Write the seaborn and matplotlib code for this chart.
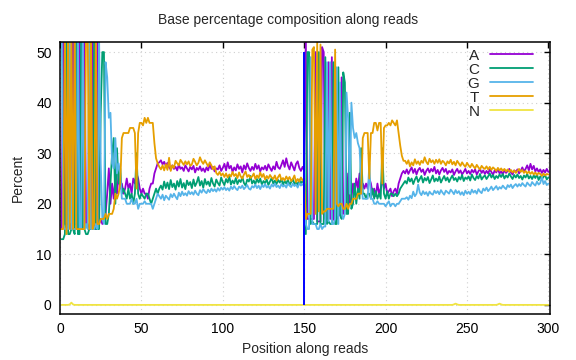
import matplotlib
matplotlib.use("Agg")
import numpy as np
import pandas as pd
import matplotlib.pyplot as plt
import seaborn as sns
from matplotlib.lines import Line2D

# Base composition (%) per cycle, read 1 = 1..150, read 2 = 151..300
positions = list(range(1, 301))

pct_A = [
    15, 56, 16, 16, 16, 16, 15, 55, 16, 16,
    16, 56, 16, 15, 55, 16, 16, 15, 15, 55,
    15, 15, 54, 16, 17, 16, 17, 18, 22, 27,
    20, 24, 21, 25, 22, 26, 23, 24, 22, 23,
    25, 23, 24, 22, 25, 24, 26, 25, 23, 22,
    23, 22, 22, 21, 23, 24, 24, 26, 27, 28,
    28.2, 28.6, 27.8, 28.3, 27.5, 28.1, 27.2, 26.8, 27.6, 26.9,
    27.3, 26.6, 27.8, 26.9, 27.2, 26.5, 27.6, 27.0, 26.4, 27.3,
    26.8, 27.5, 26.2, 27.1, 26.7, 27.4, 26.5, 27.0, 26.3, 27.2,
    26.6, 27.8, 26.9, 27.3, 26.4, 27.0, 26.8, 27.6, 26.5, 27.1,
    27.9, 26.6, 28.2, 27.0, 27.5, 26.3, 27.2, 26.6, 27.8, 26.9,
    27.4, 26.2, 27.6, 26.8, 28.0, 27.1, 26.5, 27.3, 26.7, 27.9,
    26.9, 27.6, 26.4, 27.2, 26.8, 27.5, 26.6, 27.8, 27.1, 26.5,
    27.4, 26.8, 28.3, 27.2, 26.9, 27.7, 28.6, 27.3, 29.0, 27.6,
    26.8, 28.2, 27.4, 26.6, 27.9, 28.4, 27.1, 26.5, 27.3, 26.6,
    53, 17, 17, 17, 17, 17, 50, 16.5, 16.5, 16.5,
    51, 50, 17, 17, 48, 17, 49, 17, 16.5, 17,
    17.5, 18, 45, 18, 19, 20, 26, 20, 21, 24,
    22, 25, 23, 26, 22, 24, 23, 24, 23, 25,
    24, 22, 23, 21.5, 24, 22, 23, 25, 23, 24,
    22, 22.5, 23, 21.5, 22.5, 23, 22, 24, 25, 26,
    26.5, 26, 26.8, 25.9, 26.6, 27.2, 26.1, 26.9, 25.8, 26.7,
    27.1, 26.3, 26.8, 25.7, 26.5, 27.0, 26.2, 26.9, 26.4, 27.3,
    26.0, 26.7, 25.8, 26.6, 27.1, 26.3, 26.9, 25.9, 26.5, 26.2,
    26.8, 25.7, 26.4, 26.9, 26.1, 26.6, 25.8, 26.3, 26.9, 26.0,
    26.5, 25.9, 26.7, 26.2, 26.8, 25.8, 26.4, 26.9, 26.1, 26.6,
    25.9, 26.5, 26.0, 26.8, 26.3, 25.7, 26.6, 26.2, 26.9, 26.0,
    26.4, 25.8, 26.7, 26.1, 26.5, 26.9, 26.2, 25.8, 26.6, 26.3,
    26.8, 26.0, 26.5, 27.2, 26.4, 26.9, 27.6, 26.6, 27.9, 26.8,
    27.5, 26.4, 27.0, 26.3, 26.8, 26.1, 26.7, 26.2, 26.9, 26.3,
]

pct_C = [
    13, 13, 14, 55, 14, 14, 15, 15, 14, 54,
    14, 14, 54, 15, 15, 14, 14, 15, 15, 15,
    54, 15, 15, 15, 38, 50, 50, 16, 16, 18,
    24, 30, 33, 20, 31, 24, 27, 22, 23, 22,
    21, 23, 21, 22, 20, 22, 30, 22, 21, 22,
    21.5, 21, 22, 22, 21, 20, 21, 22, 23, 22,
    23.0, 23.6, 22.8, 24.4, 23.1, 24.2, 22.9, 24.7, 23.3, 24.0,
    22.8, 24.5, 23.4, 24.9, 23.2, 24.1, 22.9, 24.6, 23.7, 24.3,
    23.1, 24.8, 23.5, 24.2, 25.3, 23.6, 24.5, 23.2, 24.9, 23.8,
    24.4, 23.5, 25.1, 24.0, 23.4, 24.8, 24.1, 23.6, 25.2, 24.3,
    23.7, 24.9, 24.2, 25.4, 23.8, 24.6, 24.0, 25.1, 23.9, 24.7,
    24.3, 25.3, 24.1, 23.6, 24.8, 24.4, 25.5, 24.0, 24.6, 23.9,
    24.9, 24.2, 25.0, 23.8, 24.5, 24.1, 24.8, 23.7, 24.4, 25.1,
    24.0, 24.6, 23.9, 24.7, 24.2, 24.9, 23.8, 24.5, 24.0, 24.8,
    23.7, 24.3, 24.9, 23.9, 24.4, 23.6, 24.8, 24.1, 24.5, 24.0,
    14, 50, 50, 16, 16.5, 16, 16, 16, 50, 16,
    16, 16, 49, 16, 16.5, 16, 16, 48, 16, 16,
    47, 18, 17, 46, 44, 18, 18, 38, 19, 20,
    24, 20, 23, 21, 31, 22, 22, 21, 22, 22,
    21, 23, 21, 22.5, 21, 22, 21, 31, 22, 21,
    22.5, 21, 22, 22, 21.5, 22, 21.5, 22, 23, 23.5,
    24.0, 24.5, 24.0, 25.2, 24.4, 25.0, 23.9, 24.8, 25.4, 24.3,
    24.9, 25.5, 24.2, 25.1, 24.6, 25.3, 24.1, 24.8, 25.6, 24.4,
    25.0, 24.5, 25.4, 24.2, 24.9, 25.5, 24.6, 25.2, 24.3, 25.0,
    25.6, 24.7, 25.1, 24.4, 25.3, 24.8, 25.7, 24.5, 25.2, 24.9,
    25.4, 24.6, 25.8, 25.1, 24.7, 25.5, 25.0, 25.9, 24.8, 25.3,
    25.6, 24.9, 25.4, 26.0, 25.2, 25.7, 24.9, 25.5, 25.1, 25.8,
    25.3, 25.9, 25.0, 25.6, 25.2, 26.0, 25.4, 24.9, 25.7, 25.2,
    25.8, 25.1, 25.5, 24.8, 25.6, 25.2, 25.9, 25.0, 25.5, 24.9,
    25.6, 25.1, 25.8, 24.7, 25.4, 24.9, 25.3, 25.7, 24.8, 25.2,
]

pct_G = [
    57, 16, 15, 15, 15, 55, 15, 15, 15, 15,
    55, 15, 15, 55, 15, 16, 15, 55, 15, 15,
    15, 16, 15, 53, 28, 17, 16, 48, 45, 37,
    38, 28, 27, 33, 26, 28, 26, 21, 21, 21,
    20, 20, 20, 21, 20, 20, 21, 19, 20, 20,
    20, 20.5, 20, 20, 20, 20, 19, 20, 21, 22,
    21.5, 21.0, 21.8, 20.7, 21.6, 21.2, 20.8, 21.9, 21.3, 22.0,
    21.4, 20.9, 22.2, 21.5, 22.4, 21.7, 22.1, 21.6, 22.5, 21.9,
    22.3, 21.8, 22.6, 22.0, 21.7, 22.7, 22.2, 22.9, 22.4, 22.1,
    22.8, 22.3, 23.0, 22.5, 22.9, 22.4, 23.1, 22.6, 23.2, 22.8,
    23.3, 22.7, 23.1, 22.6, 23.4, 22.9, 23.5, 23.0, 22.7, 23.4,
    23.1, 23.6, 22.9, 23.3, 23.7, 23.0, 22.8, 23.5, 23.2, 23.8,
    23.1, 23.6, 22.9, 23.7, 23.3, 23.9, 23.2, 23.5, 23.0, 23.8,
    23.4, 24.0, 23.3, 23.6, 23.1, 23.9, 23.4, 23.7, 23.2, 24.1,
    23.6, 23.3, 24.0, 23.5, 23.8, 23.2, 24.1, 23.6, 23.9, 23.5,
    16, 15, 15, 49, 16, 16, 16, 15, 15, 16,
    15, 15.5, 15.5, 48, 16.5, 48, 16, 16, 17, 47,
    16, 44, 18, 17, 18, 42, 37, 22, 40, 35,
    33, 34, 32, 31, 25, 21, 21, 21, 21, 28,
    21, 21, 20, 20, 20.5, 20, 20, 20, 20, 19.5,
    20, 20.5, 19.5, 20, 20, 19.5, 20, 20, 20.5, 21,
    21.0, 21.0, 21.3, 20.8, 21.6, 21.1, 22.4, 21.5, 22.0, 23.8,
    22.2, 21.7, 22.5, 21.9, 22.3, 21.6, 22.4, 22.0, 21.8, 22.6,
    22.1, 22.5, 21.9, 22.7, 22.2, 21.8, 22.6, 22.3, 22.0, 22.8,
    22.4, 21.9, 22.7, 22.1, 22.5, 21.8, 22.3, 21.7, 22.6, 22.0,
    22.4, 21.9, 22.8, 22.2, 22.6, 22.0, 22.9, 22.4, 22.1, 23.0,
    22.6, 23.2, 22.5, 22.9, 23.4, 22.7, 23.1, 23.5, 22.8, 23.3,
    23.0, 23.6, 23.2, 22.9, 23.7, 23.3, 23.8, 23.1, 23.6, 23.9,
    23.4, 23.9, 23.5, 24.1, 23.7, 23.4, 24.2, 23.8, 23.5, 24.3,
    23.9, 23.6, 24.4, 23.8, 24.1, 25.3, 23.9, 24.5, 23.7, 24.0,
]

pct_T = [
    15, 15, 55, 14, 55, 15, 55, 15, 55, 15,
    15, 15, 15, 15, 15, 54, 55, 15, 55, 15,
    16, 54, 16, 16, 17, 17, 17, 18, 17, 18,
    18, 18, 19, 22, 21, 22, 24, 33, 34, 34,
    34, 34, 35, 35, 35, 34, 23, 34, 36, 36,
    35.5, 37, 36, 37, 36, 36, 36, 32, 29, 28,
    27.3, 26.8, 27.6, 26.6, 27.8, 26.7, 29.1, 26.5, 27.6, 27.1,
    28.5, 28.0, 27.6, 28.7, 28.2, 27.7, 28.4, 27.8, 28.4, 27.5,
    27.8, 28.9, 28.3, 27.6, 28.1, 29.2, 28.4, 27.9, 28.6, 28.0,
    27.4, 28.2, 27.6, 26.8, 27.4, 26.1, 25.7, 26.3, 25.6, 26.0,
    25.3, 26.0, 25.2, 25.8, 25.4, 26.3, 25.5, 25.9, 25.1, 26.2,
    25.4, 25.0, 25.8, 26.4, 25.3, 25.7, 25.1, 25.4, 26.0, 24.9,
    25.6, 25.1, 26.2, 25.3, 25.9, 24.8, 25.5, 25.0, 25.7, 25.2,
    24.9, 25.6, 24.6, 25.3, 25.8, 24.7, 25.1, 24.6, 25.4, 24.8,
    25.3, 24.5, 24.9, 25.6, 24.3, 24.9, 24.4, 25.2, 24.6, 25.0,
    17, 18, 18, 18, 50.5, 51, 18, 52, 18.5, 51.5,
    18, 18.5, 18.5, 19, 19, 19, 19, 19, 50.5, 20,
    19.5, 20, 20, 19, 19, 20, 19, 20, 20, 21,
    21, 21, 22, 22, 22, 33, 34, 34, 34, 25,
    34, 34, 36, 36, 34.5, 36, 36, 24, 35, 35.5,
    35.5, 36, 35.5, 36.5, 36, 35.5, 36.5, 34, 31.5, 29.5,
    28.5, 28.5, 27.9, 28.6, 27.4, 28.2, 27.6, 28.8, 27.9, 28.4,
    27.7, 28.5, 28.1, 29.2, 28.3, 27.8, 28.9, 28.2, 28.6, 27.9,
    28.7, 28.1, 28.8, 27.9, 28.5, 28.2, 27.6, 28.4, 28.0, 28.7,
    27.8, 28.3, 27.6, 28.5, 28.0, 27.5, 28.2, 27.7, 27.3, 28.1,
    27.6, 27.2, 27.9, 27.4, 27.0, 27.7, 27.2, 26.8, 27.5, 27.1,
    26.9, 27.4, 26.8, 27.3, 26.7, 27.2, 26.9, 26.5, 27.1, 26.6,
    27.0, 26.5, 26.9, 26.4, 26.8, 26.3, 26.7, 26.2, 26.6, 26.1,
    26.5, 26.9, 26.3, 26.7, 26.1, 26.5, 26.0, 26.4, 25.9, 26.3,
    25.8, 26.2, 25.7, 26.1, 25.9, 25.5, 26.0, 25.6, 25.9, 25.8,
]

pct_N = [
    0, 0, 0, 0, 0, 0.1, 0.45, 0.1, 0, 0, 0, 0, 0, 0, 0, 0, 0, 0, 0, 0,
    0, 0, 0, 0, 0, 0, 0, 0, 0, 0, 0, 0, 0, 0, 0, 0, 0, 0, 0, 0,
    0, 0, 0, 0, 0, 0, 0, 0, 0, 0, 0, 0, 0, 0, 0, 0, 0, 0, 0, 0,
    0, 0, 0, 0, 0, 0, 0, 0, 0, 0, 0, 0, 0, 0, 0, 0, 0, 0, 0, 0,
    0, 0, 0, 0, 0, 0, 0, 0, 0, 0, 0, 0, 0, 0, 0, 0, 0, 0, 0, 0,
    0, 0, 0, 0, 0, 0, 0, 0, 0, 0, 0, 0, 0, 0, 0, 0, 0, 0, 0, 0,
    0, 0, 0, 0, 0, 0, 0, 0, 0, 0, 0, 0, 0, 0, 0, 0, 0, 0, 0, 0,
    0, 0, 0, 0, 0, 0, 0, 0, 0, 0, 0, 0, 0, 0, 0, 0, 0, 0, 0, 0,
    0, 0, 0, 0, 0, 0, 0, 0, 0, 0, 0, 0, 0, 0, 0, 0, 0, 0, 0, 0,
    0, 0, 0, 0, 0, 0, 0, 0, 0, 0, 0, 0, 0, 0, 0, 0, 0, 0, 0, 0,
    0, 0, 0, 0, 0, 0, 0, 0, 0, 0, 0, 0, 0, 0, 0, 0, 0, 0, 0, 0,
    0, 0, 0, 0, 0, 0, 0, 0, 0, 0, 0, 0, 0, 0, 0, 0, 0, 0, 0, 0,
    0, 0.1, 0.25, 0.1, 0, 0, 0, 0, 0, 0, 0, 0, 0, 0, 0, 0, 0, 0, 0, 0,
    0, 0, 0, 0, 0, 0, 0, 0, 0.1, 0.25, 0.1, 0, 0, 0, 0, 0, 0, 0, 0, 0,
    0, 0, 0, 0, 0, 0, 0, 0, 0, 0, 0, 0, 0, 0, 0, 0, 0, 0, 0, 0,
]

bases = ["A", "C", "G", "T", "N"]
colors = ["#9400D3", "#009E73", "#56B4E9", "#E69F00", "#F0E442"]
read_boundary = 150
boundary_top = 50

series = [pct_A, pct_C, pct_G, pct_T, pct_N]
df = pd.concat(
    [pd.DataFrame({"pos": positions, "pct": s, "base": b}) for b, s in zip(bases, series)],
    ignore_index=True,
)

sns.set_theme(style="white")
plt.rcParams["font.family"] = ["Liberation Sans", "DejaVu Sans"]
plt.rcParams["font.size"] = 10

fig = plt.figure(figsize=(5.76, 3.6), dpi=100)
ax = fig.add_axes([60 / 576, 1 - 314 / 360, 490 / 576, 272 / 360])

palette = dict(zip(bases, colors))
sns.lineplot(data=df, x="pos", y="pct", hue="base", palette=palette,
             estimator=None, sort=False, lw=1.3, legend=False, ax=ax)

# read 1 / read 2 boundary
ax.vlines(read_boundary, 0, boundary_top, color="#0000ff", lw=1.4, zorder=5)

ax.set_xlim(0, 301)
ax.set_ylim(-1.8, 52)
ax.set_xticks(range(0, 301, 50))
ax.set_yticks(range(0, 51, 10))
ax.grid(True, color="#cfcfcf", linestyle=(0, (1, 3)), lw=0.8)
ax.tick_params(direction="in", length=4, width=1, top=True, right=True,
               labelsize=10, pad=6, colors="black")
for sp in ax.spines.values():
    sp.set_color("black")
    sp.set_linewidth(1.1)

ax.set_xlabel("Position along reads", fontsize=10, labelpad=4)
ax.set_ylabel("Percent", fontsize=10, labelpad=8)
fig.text(0.5, 1 - 20 / 360, "Base percentage composition along reads",
         ha="center", va="center", fontsize=10)

handles = [Line2D([], [], color=c, lw=1.3) for c in colors]
ax.legend(handles, bases, loc="upper right", bbox_to_anchor=(0.965, 0.975),
          markerfirst=False, frameon=False, handlelength=2.8, handletextpad=0.7,
          labelspacing=0.0, borderpad=0, borderaxespad=0, fontsize=11)

plt.savefig("out.png", dpi=100)
